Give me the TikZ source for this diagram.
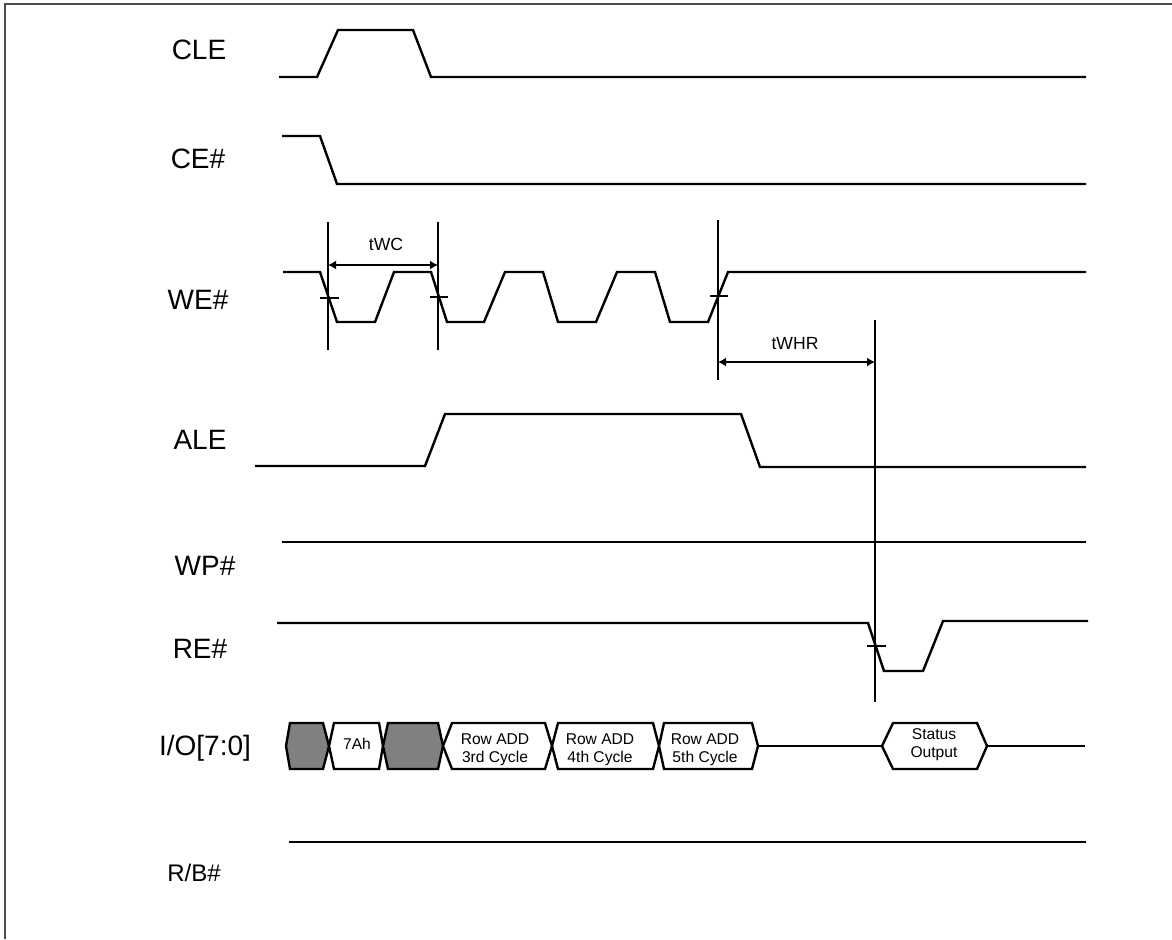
\documentclass[tikz,border=0pt]{standalone}
\usepackage{fontspec}
\setmainfont{Liberation Sans}
\usetikzlibrary{arrows.meta}
\tikzstyle{sig}=[draw, line width=1.2pt]
\tikzstyle{siglabel}=[font=\fontsize{14}{16}\selectfont, inner sep=0pt, anchor=base]
\tikzstyle{timing}=[font=\fontsize{8.8}{10}\selectfont, inner sep=0pt, anchor=base]
\tikzstyle{bus}=[draw, line width=1.2pt, fill=white]
\tikzstyle{busgray}=[draw, line width=1.2pt, fill=black!50]
\tikzstyle{bustext}=[font=\fontsize{7.8}{9}\selectfont, align=center, inner sep=0pt]
\tikzstyle{edge}=[draw, line width=1.2pt]
\tikzstyle{dim}=[draw, line width=1.2pt, {Latex[length=4pt,width=4.5pt]}-{Latex[length=4pt,width=4.5pt]}]

\begin{document}
\begin{tikzpicture}[x=0.5pt,y=-0.5pt]
  \useasboundingbox (0,0) rectangle (1172,939);
  % frame
  \draw[black!70, line width=0.8pt] (5,939) -- (5,4) -- (1172,4);
  % signal names
  \node[siglabel] (CLE)  at (199,59)  {CLE};
  \node[siglabel] (CE)   at (198,168) {CE\#};
  \node[siglabel] (WE)   at (198,309) {WE\#};
  \node[siglabel] (ALE)  at (200,449) {ALE};
  \node[siglabel] (WP)   at (205,575) {WP\#};
  \node[siglabel] (RE)   at (200,658) {RE\#};
  \node[siglabel] (IO)   at (205,755) {I/O[7:0]};
  \node[siglabel, font=\fontsize{12}{14}\selectfont] (RB) at (194,881) {R/B\#};
  % waveforms
  \path[sig] (279,77) -- (317,77) -- (338,30) -- (413,30) -- (431,77) -- (1086,77);
  \path[sig] (282,136) -- (320,136) -- (337,184) -- (1086,184);
  \path[sig] (283,272) -- (320,272) -- (337,322) -- (375,322) -- (394,272)
    -- (431,272) -- (447,322) -- (484,322) -- (505,272)
    -- (543,272) -- (558,322) -- (596,322) -- (617,272)
    -- (655,272) -- (670,322) -- (708,322) -- (728,272) -- (1086,272);
  \path[sig] (255,466) -- (425,466) -- (445,414) -- (741,414) -- (760,467) -- (1086,467);
  \path[sig] (282,542) -- (1086,542);
  \path[sig] (277,623) -- (868,623) -- (884,671) -- (923,671) -- (943,621) -- (1088,621);
  \path[sig] (289,842) -- (1086,842);
  % bus
  \path[busgray] (286,746) -- (290,723) -- (323,723) -- (329,746) -- (323,769) -- (290,769) -- cycle;
  \path[bus] (329,746) -- (334,723) -- (379,723) -- (383,746) -- (379,769) -- (334,769) -- cycle;
  \path[busgray] (383,746) -- (388,723) -- (438,723) -- (443,746) -- (438,769) -- (388,769) -- cycle;
  \path[bus] (443,746) -- (452,723) -- (545,723) -- (552,746) -- (545,769) -- (452,769) -- cycle;
  \path[bus] (552,746) -- (558,723) -- (653,723) -- (659,746) -- (653,769) -- (558,769) -- cycle;
  \path[bus] (659,746) -- (664,723) -- (752,723) -- (758,746) -- (752,769) -- (664,769) -- cycle;
  \path[sig] (758,746) -- (882,746);
  \path[bus] (882,746) -- (893,723) -- (977,723) -- (987,746) -- (977,769) -- (893,769) -- cycle;
  \path[sig] (987,746) -- (1085,746);
  \node[bustext] (cmd)    at (357,743.5) {7Ah};
  \node[bustext] (row3)   at (495,750) {Row ADD\\3rd Cycle};
  \node[bustext] (row4)   at (600,750) {Row ADD\\4th Cycle};
  \node[bustext] (row5)   at (705,750) {Row ADD\\5th Cycle};
  \node[bustext] (status) at (934,745) {Status\\Output};
  % timing markers
  \coordinate (m1top) at (328,222);  \coordinate (m1bot) at (328,350);
  \coordinate (m2top) at (438,222);  \coordinate (m2bot) at (438,350);
  \coordinate (m3top) at (718,220);  \coordinate (m3bot) at (718,380);
  \coordinate (m4top) at (875,320);  \coordinate (m4bot) at (875,702);
  \path[edge] (m1top) -- (m1bot);
  \path[edge] (m2top) -- (m2bot);
  \path[edge] (m3top) -- (m3bot);
  \path[edge] (m4top) -- (m4bot);
  \path[edge] (320,298) -- (339,298);
  \path[edge] (430,297) -- (448,297);
  \path[edge] (710,296) -- (728,296);
  \path[edge] (867,646) -- (886,646);
  % tWC, tWHR
  \coordinate (wcl) at (328,265);  \coordinate (wcr) at (438,265);
  \coordinate (whl) at (718,362);  \coordinate (whr) at (875,362);
  \path[dim] (wcl) -- (wcr);
  \path[dim] (whl) -- (whr);
  \node[timing] (tWC)  at (386,250) {tWC};
  \node[timing] (tWHR) at (795,349) {tWHR};
\end{tikzpicture}
\end{document}
